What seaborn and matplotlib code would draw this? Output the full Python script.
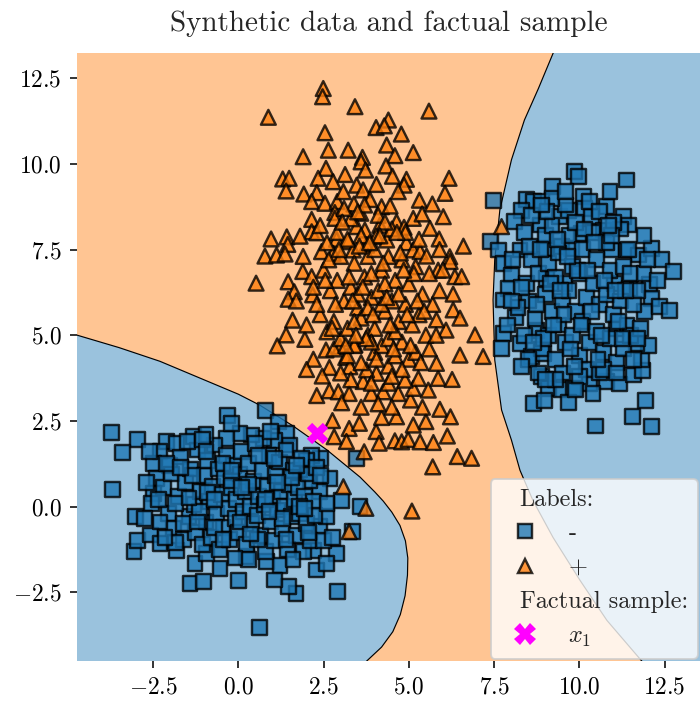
import numpy as np
import pandas as pd
import matplotlib
matplotlib.use("Agg")
import matplotlib.pyplot as plt
import matplotlib.colors as mcolors
from matplotlib.lines import Line2D
import seaborn as sns

# ---------------- data ----------------
# class "-" : lower-left cluster
neg_low_x = [-3.72, -2.96, -3.41, -3.69, -0.32, 0.80, 0.63, 2.90, -1.42, -1.03, 0.00, 1.69, 1.46,
             -3.06, -2.96, -3.02, -0.54, -1.27, 2.30, 2.88, 2.69, 3.03, 3.57, 3.35, 2.42, 2.15,
             1.17, 1.42, 1.50, 1.07, 0.73, 0.39, 0.05, -0.34, -1.32, -2.10, -1.81, -0.20, -2.30,
             -2.49, -2.01, -2.40, -2.49, -2.54, -2.57, -2.30, -1.81, -0.93, 0.24, 0.83, 1.22,
             2.20, 2.59, 2.39, 2.59, 2.39, 2.10, 1.81, 2.00, 3.47, 1.07,
             -2.20, -2.05, -1.95, -1.90, -1.75, -1.70, -1.60, -1.55, -1.45, -1.40, -1.30, -1.25,
             -1.20, -1.10, -1.05, -1.00, -0.95, -0.90, -0.85, -0.80, -0.75, -0.70, -0.65, -0.60,
             -0.55, -0.50, -0.45, -0.40, -0.35, -0.30, -0.25, -0.20, -0.15, -0.10, -0.05, 0.00,
             0.05, 0.10, 0.15, 0.20, 0.25, 0.30, 0.35, 0.40, 0.45, 0.50, 0.55, 0.60, 0.65, 0.70,
             0.75, 0.80, 0.85, 0.90, 0.95, 1.00, 1.05, 1.10, 1.15, 1.20, 1.25, 1.30, 1.35, 1.40,
             1.45, 1.50, 1.55, 1.60, 1.65, 1.70, 1.75, 1.80, 1.85, 1.90, 1.95, 2.00, 2.05, 2.10,
             2.20, 2.25, 2.30, -2.30, -2.10, -1.85, -1.50, -0.95, 0.30, -0.10, 1.60, 2.50, 2.60,
             2.75, -2.70, -2.75, -2.60, -1.05, 0.95,
             -1.85, -1.60, -1.35, -1.15, -0.90, -0.70, -0.45, -0.20, 0.05, 0.30, 0.55, 0.80, 1.05,
             1.30, 1.55, 1.80, 2.05, -1.70, -1.45, -1.20, -0.95, -0.70, -0.45, -0.20, 0.10, 0.35,
             0.60, 0.90, 1.15, 1.40, 1.70, 1.95, -2.15, -2.35, 2.40]
neg_low_y = [2.16, 1.96, 1.58, 0.51, 2.67, 2.80, -3.53, -2.48, -2.24, -2.19, -2.15, -2.53, -2.34,
             -1.32, -0.98, -0.30, -1.80, -1.66, -1.85, -1.37, 0.82, 0.19, 0.00, -0.73, 1.41, 1.50,
             2.47, 2.14, 1.80, 1.94, 1.99, 2.09, 2.14, 1.99, 2.04, 1.89, 1.84, 2.43, 1.60,
             1.26, 1.21, 0.82, 0.39, 0.09, -0.83, -1.07, -1.27, -1.37, -1.46, -1.61, -1.71,
             -1.27, -1.66, -0.59, -0.30, 0.44, 0.77, 1.07, 1.36, 1.41, -2.14,
             0.55, -0.20, 0.95, -0.65, 0.30, 1.45, -0.95, 0.70, -0.30, 1.10, 0.05, -0.75,
             1.65, 0.45, -1.10, 0.90, -0.45, 1.35, 0.15, -0.90, 0.60, 1.80, -0.20, 1.10,
             -1.25, 0.35, -0.60, 0.85, 1.50, -0.05, -0.95, 0.55, 1.20, -0.35, 0.20, -0.75,
             0.95, 1.60, -0.15, 0.45, -1.10, 1.25, 0.00, -0.50, 0.75, 1.85, -0.25, 0.30, -0.85, 1.05,
             0.05, -1.30, 0.60, 1.50, -0.45, 0.25, -1.00, 0.90, -0.10, 1.30, 0.45, -0.65, 0.00, 1.65,
             -1.25, 0.65, -0.30, 1.05, 0.20, -0.85, 0.55, -0.20, 1.40, -1.30, 0.30, -0.50, 0.95, -1.00,
             0.15, -0.25, 1.15, -0.45, 1.25, -1.05, 1.90, 2.10, -1.55, -1.50, -1.55, -1.00, 0.10,
             -0.90, 0.70, -0.35, 1.60, 1.95, 2.20,
             0.10, -0.50, 0.90, -0.15, 0.40, -0.60, 1.25, 0.75, -0.45, 0.65, -0.95, 0.20, 1.40,
             -0.35, 0.85, 0.00, -0.75, 1.15, 0.25, -0.45, 1.60, 0.20, -0.95, 1.05, 0.55, -0.80,
             1.50, -0.15, 0.70, -0.95, 1.20, -0.05, -0.90, 0.20, 0.90]

# class "-" : right cluster
neg_right_x = [9.85, 9.97, 11.39, 9.22, 7.48, 10.12, 10.80, 8.45, 8.65, 8.89, 8.31, 8.11, 8.85,
               9.43, 9.68, 10.16, 10.36, 11.29, 11.44, 7.40, 7.62, 7.77, 8.26, 9.04, 9.48, 9.77,
               10.07, 10.70, 10.95, 11.39, 11.73, 12.12, 12.41, 12.76, 8.01, 7.91, 7.77, 8.45,
               9.04, 9.58, 11.04, 11.48, 12.07, 12.12, 11.92, 12.36, 12.64, 8.14, 7.77, 7.72,
               8.26, 8.75, 8.60, 8.94, 8.89, 9.09, 9.48, 9.82, 10.31, 10.80, 11.19, 11.58, 11.86,
               11.83, 12.02, 11.68, 11.09, 8.65, 8.99, 9.68, 10.48, 11.55, 11.94, 12.12,
               8.4, 8.6, 8.5, 8.7, 8.4, 8.8, 8.9, 8.6, 9.0, 9.1, 9.0, 9.2, 9.1, 9.3, 9.2, 9.4,
               9.3, 9.5, 9.4, 9.6, 9.5, 9.6, 9.7, 9.8, 9.7, 9.9, 9.8, 10.0, 9.9, 10.1, 10.0,
               10.2, 10.1, 10.3, 10.2, 10.3, 10.4, 10.5, 10.4, 10.6, 10.5, 10.7, 10.6, 10.8,
               10.9, 10.8, 11.0, 10.9, 11.1, 11.2, 11.3, 11.2, 11.4, 11.3, 11.5, 11.6, 11.5,
               11.7, 8.3, 8.2, 8.5, 8.8, 9.3, 10.0, 10.7, 11.1, 11.6, 11.8, 11.9, 12.3, 8.05,
               8.0, 7.9, 8.3, 9.2, 10.6, 11.0, 11.9, 12.0, 9.6, 10.9,
               8.55, 8.75, 8.95, 9.15, 9.35, 9.55, 9.75, 9.95, 10.15, 10.35, 10.55, 10.75, 10.95,
               11.15, 11.35, 8.65, 8.85, 9.05, 9.25, 9.45, 9.65, 9.85, 10.05, 10.25, 10.45, 10.65,
               10.85, 11.05, 11.25, 11.45, 9.0, 9.9, 10.4, 8.9, 11.7]
neg_right_y = [9.77, 9.63, 9.53, 9.34, 8.93, 9.04, 8.75, 8.95, 8.90, 8.90, 8.65, 8.31, 8.22,
               8.46, 8.65, 8.70, 8.46, 8.46, 8.22, 7.73, 7.49, 7.10, 7.49, 7.54, 7.59, 7.54,
               7.97, 8.07, 7.49, 7.49, 7.34, 7.54, 7.20, 6.85, 6.76, 6.37, 6.03, 6.51,
               6.66, 6.51, 6.51, 6.37, 6.47, 6.08, 5.69, 5.83, 5.72, 5.52, 5.04, 4.62,
               4.76, 5.15, 4.39, 4.47, 3.79, 3.45, 3.42, 3.45, 3.60, 3.65, 3.58, 3.84, 3.97,
               4.28, 4.71, 4.76, 5.20, 3.01, 3.09, 3.03, 2.35, 2.64, 3.09, 2.33,
               8.0, 7.2, 6.0, 5.5, 5.0, 6.8, 4.6, 8.5, 7.9, 7.1, 6.2, 5.7, 5.0, 4.3, 8.2, 7.4,
               6.7, 6.0, 5.3, 4.8, 3.9, 8.8, 7.9, 7.0, 6.3, 5.7, 5.0, 4.4, 8.3, 7.5, 6.8,
               6.1, 5.4, 4.8, 4.0, 8.9, 8.0, 7.2, 6.5, 5.9, 5.1, 4.5, 3.9, 7.7,
               6.9, 6.2, 5.6, 4.9, 4.2, 8.1, 7.0, 6.0, 5.3, 4.6, 6.8, 5.9, 5.0,
               6.3, 6.4, 5.8, 4.3, 3.9, 3.7, 3.8, 4.0, 3.9, 4.3, 5.2, 6.8, 6.6, 7.2,
               6.0, 5.3, 4.1, 9.0, 8.6, 8.3, 7.9, 7.2, 9.2, 9.2,
               7.6, 5.9, 4.9, 6.5, 7.8, 5.6, 4.6, 6.9, 8.1, 5.7, 4.3, 6.6, 7.9,
               5.4, 6.3, 4.8, 7.5, 8.6, 5.3, 6.3, 7.3, 4.1, 5.3, 6.9, 7.7, 5.0,
               8.2, 6.3, 4.9, 7.5, 3.7, 3.4, 3.3, 8.8, 4.9]

# class "+" : central cluster
pos_x = [2.49, 2.47, 3.42, 0.88, 5.59, 4.40, 4.04, 4.28, 2.54, 4.78, 4.35, 2.64, 3.22, 1.90, 3.64,
         4.59, 5.13, 2.57, 3.60, 3.73, 4.33, 2.34, 3.13, 4.52, 4.93, 6.18, 1.30, 1.49, 1.40, 1.92,
         2.30, 2.78, 3.47, 4.05, 4.86, 4.69, 6.06, 2.15, 2.54, 2.90, 3.08, 3.39, 3.66, 3.86, 4.20,
         4.45, 5.31, 5.69, 2.83, 3.59, 5.13, 5.39, 6.01, 2.15, 2.83, 4.64, 4.15, 4.86, 5.62, 3.47,
         3.71, 2.15, 2.30, 0.96, 1.42, 1.81, 1.45, 2.88, 3.22, 4.05, 4.35, 4.93, 5.89, 0.78, 1.12,
         1.37, 2.44, 2.78, 3.37, 3.76, 5.13, 5.33, 6.20,
         5.52, 5.86, 6.21, 6.35, 6.55, 0.52, 1.46, 1.89, 2.15, 1.64, 1.46, 2.18, 1.59, 1.40, 1.14,
         1.95, 2.57, 2.98, 3.42, 3.15, 2.67, 2.46, 2.30, 2.67, 2.93, 3.25, 3.03, 3.66, 2.76, 3.25,
         3.55, 2.81, 3.17, 4.04, 4.13, 3.69, 4.59, 4.79, 4.98, 5.33, 5.72, 6.13, 6.42, 6.84, 5.70,
         5.91, 6.22, 5.50, 5.13, 4.64, 5.05, 4.25, 4.69, 5.13, 5.57, 5.86, 6.27, 5.28, 4.89, 4.40,
         4.05, 3.76, 3.27, 6.30, 6.94, 7.18, 6.50, 5.81, 6.09, 5.81,
         3.08, 3.74, 3.25, 5.09, 7.72,
         2.4, 2.6, 2.5, 2.7, 2.4, 2.6, 2.8, 2.9, 3.0, 2.9, 3.1, 2.8, 3.0, 3.2, 3.3, 3.2, 3.4, 3.3,
         3.5, 3.2, 3.4, 3.6, 3.7, 3.6, 3.8, 3.7, 3.9, 3.6, 3.8, 4.0, 4.1, 4.0, 4.2, 4.1, 4.3, 4.0,
         4.2, 4.4, 4.5, 4.4, 4.6, 4.5, 4.7, 4.4, 4.6, 4.9, 4.8, 5.0, 4.9, 5.1, 4.8, 5.0, 5.3, 5.2,
         5.4, 5.3, 5.5, 5.2, 5.6, 5.7, 5.6, 5.9, 5.8, 6.0, 3.5, 3.1, 4.3, 3.9, 4.3, 3.5, 4.7, 3.8,
         4.2, 3.4, 4.6, 3.9, 2.2, 2.3, 2.0, 2.2, 6.3, 6.5, 5.9, 6.6, 1.9, 1.7, 2.0, 3.9, 4.5, 3.6,
         4.2, 5.4, 4.8,
         2.55, 2.75, 2.95, 3.15, 3.35, 3.55, 3.75, 3.95, 4.15, 4.35, 4.55, 4.75, 4.95, 5.15, 5.35,
         2.65, 2.85, 3.05, 3.25, 3.45, 3.65, 3.85, 4.05, 4.25, 4.45, 4.65, 4.85, 5.05, 5.25, 5.45,
         3.3, 3.9, 4.5, 3.0, 4.1]
pos_y = [12.20, 11.96, 11.67, 11.36, 11.54, 11.28, 11.06, 11.11, 10.91, 10.87, 10.55, 10.40, 10.40,
         10.21, 10.19, 10.24, 10.33, 9.87, 10.06, 9.82, 9.94, 9.58, 9.69, 9.64, 9.55, 9.58, 9.56,
         9.58, 9.21, 9.12, 9.16, 9.48, 9.38, 9.40, 9.38, 9.19, 9.14, 8.90, 8.85, 8.90, 9.19, 8.83,
         9.24, 8.96, 8.75, 8.77, 8.94, 8.83, 8.58, 8.56, 8.41, 8.54, 8.46, 8.38, 8.41, 8.31, 8.21,
         8.15, 8.12, 8.17, 8.07, 8.02, 7.99, 7.81, 7.87, 7.89, 7.65, 7.80, 7.73, 7.89, 7.78, 7.70,
         7.81, 7.31, 7.34, 7.37, 7.44, 7.39, 7.49, 7.63, 7.49, 7.44, 7.29,
         7.31, 6.90, 7.15, 6.71, 6.71, 6.52, 6.56, 6.86, 6.71, 6.27, 6.05, 6.18, 5.44, 5.01, 4.69,
         4.88, 4.57, 4.67, 4.72, 4.35, 4.06, 3.81, 3.24, 3.38, 3.35, 3.30, 3.03, 3.65, 2.51, 2.28,
         2.43, 2.04, 1.90, 2.19, 1.85, 1.60, 1.92, 1.89, 1.96, 1.89, 1.87, 2.06, 1.46, 1.41, 1.16,
         2.84, 2.62, 2.48, 2.38, 2.62, 3.11, 3.35, 3.30, 3.45, 3.40, 3.74, 3.71, 3.74, 3.69, 3.60,
         3.89, 3.99, 4.08, 5.74, 5.01, 4.38, 4.42, 4.18, 5.15, 5.45,
         0.58, -0.05, -0.73, -0.13, 8.17,
         8.2, 7.7, 6.9, 6.3, 5.6, 5.1, 4.6, 8.0, 7.3, 6.6, 6.0, 5.4, 4.9, 4.4, 8.4, 7.8, 7.1, 6.4,
         5.8, 5.2, 4.7, 4.2, 8.8, 7.9, 7.3, 6.7, 6.1, 5.5, 5.0, 4.5, 8.5, 7.5, 6.9, 6.3, 5.7, 5.2,
         4.7, 4.1, 8.1, 7.3, 6.6, 6.0, 5.4, 4.9, 4.4, 8.0, 7.2, 6.5, 5.9, 5.3, 4.8, 4.3, 7.8, 7.0,
         6.2, 5.6, 5.0, 4.5, 6.8, 5.9, 4.6, 6.3, 5.0, 6.9, 8.6, 8.7, 8.3, 6.8, 6.5, 6.2, 6.2, 5.8,
         5.9, 5.4, 5.1, 4.8, 6.4, 5.9, 5.3, 4.3, 6.2, 5.5, 7.5, 7.6, 7.3, 6.0, 4.0, 3.3, 2.9, 2.9,
         2.6, 2.9, 4.0,
         6.6, 5.2, 7.5, 4.7, 6.0, 7.6, 4.9, 5.6, 7.9, 6.1, 4.6, 7.4, 5.6, 6.8, 4.2,
         7.2, 5.9, 8.3, 6.7, 5.0, 6.4, 7.7, 4.3, 7.1, 5.3, 8.0, 6.9, 4.7, 6.0, 5.7,
         3.7, 3.6, 3.8, 3.9, 3.0]

# factual sample
factual_x = [2.30]
factual_y = [2.14]

# decision boundary (two branches)
left_bx = [-5.00, -4.72, -3.50, -2.30, -1.03, 0.00, 0.63, 1.61, 2.59, 3.57, 4.00, 4.25, 4.50,
           4.74, 4.90, 4.97, 4.96, 4.89, 4.75, 4.53, 4.20, 3.76, 3.50]
left_by = [5.10, 5.00, 4.64, 4.24, 3.71, 3.28, 2.96, 2.35, 1.66, 0.86, 0.43, 0.16, -0.16,
           -0.55, -1.00, -1.50, -2.00, -2.60, -3.15, -3.65, -4.10, -4.51, -4.75]
right_bx = [9.35, 9.24, 8.80, 8.39, 8.01, 7.67, 7.52, 7.47, 7.52, 7.72, 8.01, 8.26, 8.64, 9.23,
            10.02, 10.81, 11.87, 12.10]
right_by = [13.50, 13.25, 12.20, 11.28, 10.12, 8.66, 7.20, 6.03, 4.28, 2.82, 1.94, 1.06, 0.18,
            -0.90, -2.15, -3.32, -4.55, -4.80]

x_ticks = [-2.5, 0.0, 2.5, 5.0, 7.5, 10.0, 12.5]
y_ticks = [-2.5, 0.0, 2.5, 5.0, 7.5, 10.0, 12.5]
legend_labels = ["Labels:", "-", "+", "Factual sample:", "$x_1$"]
title = "Synthetic data and factual sample"

# ---------------- style ----------------
sns.set_style("white")
plt.rcParams.update({
    "font.family": ["cmr10", "DejaVu Serif"],
    "mathtext.fontset": "cm",
    "axes.formatter.use_mathtext": True,
    "font.size": 12,
})

def blend(c, a):
    rgb = np.array(mcolors.to_rgb(c))
    return tuple(rgb * a + (1 - a))

BLUE = "tab:blue"
ORANGE = "tab:orange"
bg_orange = blend(ORANGE, 0.45)
bg_blue = blend(BLUE, 0.45)
S_PTS = 58
LW_PTS = 1.25
S_X = 120

W, H = 700, 708
fig = plt.figure(figsize=(W / 140, H / 140), dpi=140)
ax = fig.add_axes([77.3 / W, 47 / H, (700 - 77.3) / W, (661 - 52.7) / H])

# background decision regions
ax.set_facecolor(bg_orange)
ax.fill(left_bx + [-7, -7], left_by + [-7, 5.1], color=bg_blue, lw=0, zorder=0)
ax.fill(right_bx + [16, 16], right_by + [-7, 16], color=bg_blue, lw=0, zorder=0)
ax.plot(left_bx, left_by, color="black", lw=0.6, zorder=1)
ax.plot(right_bx, right_by, color="black", lw=0.6, zorder=1)

# points
df = pd.DataFrame({
    "x": neg_low_x + neg_right_x + pos_x,
    "y": neg_low_y + neg_right_y + pos_y,
    "Labels": ["-"] * (len(neg_low_x) + len(neg_right_x)) + ["+"] * len(pos_x),
})
sns.scatterplot(data=df, x="x", y="y", hue="Labels", style="Labels",
                palette={"-": BLUE, "+": ORANGE}, markers={"-": "s", "+": "^"},
                s=S_PTS, edgecolor="black", linewidth=LW_PTS, alpha=0.8, legend=False,
                ax=ax, zorder=3)
sns.scatterplot(x=factual_x, y=factual_y, marker="X", color="magenta", s=S_X,
                edgecolor="magenta", linewidth=0, legend=False, ax=ax, zorder=4)

ax.set_xlim(-4.724, 13.54)
ax.set_ylim(-4.505, 13.245)
ax.set_xticks(x_ticks)
ax.set_yticks(y_ticks)
ax.set_xlabel("")
ax.set_ylabel("")
for sp in ax.spines.values():
    sp.set_visible(False)
ax.tick_params(bottom=True, left=True, direction="out", length=3.5, width=0.8,
               color="black", labelsize=12, pad=4.5, labelcolor="black")
ax.set_title(title, fontsize=15, pad=11)

# legend
ms = np.sqrt(S_PTS)
handles = [
    Line2D([], [], visible=False),
    Line2D([], [], marker="s", linestyle="none", markersize=ms, markerfacecolor=BLUE,
           markeredgecolor="black", markeredgewidth=LW_PTS, alpha=0.8),
    Line2D([], [], marker="^", linestyle="none", markersize=ms, markerfacecolor=ORANGE,
           markeredgecolor="black", markeredgewidth=LW_PTS, alpha=0.8),
    Line2D([], [], visible=False),
    Line2D([], [], marker="X", linestyle="none", markersize=np.sqrt(S_X),
           markerfacecolor="magenta", markeredgewidth=0),
]
leg = ax.legend(handles, legend_labels, loc="lower right", borderaxespad=0.1, fontsize=12.5)
try:
    from seaborn.utils import adjust_legend_subtitles
    adjust_legend_subtitles(leg)
except Exception:
    import matplotlib.offsetbox as ob
    for hp in leg.findobj(ob.VPacker)[0].get_children():
        da, ta = hp.get_children()
        if not all(a.get_visible() for a in da.get_children()):
            da.set_width(0)

fig.savefig("out.png", dpi=140)
